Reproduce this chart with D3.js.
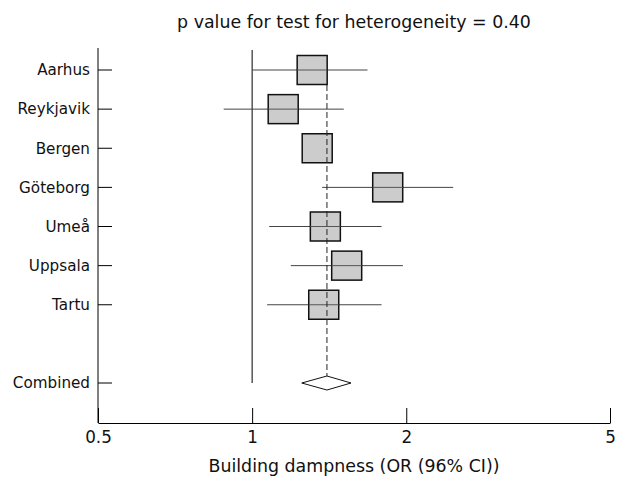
<!DOCTYPE html>
<html>
<head>
<meta charset="utf-8">
<script src="https://cdn.jsdelivr.net/npm/d3@7"></script>
<style>
  body { margin: 0; background: #fff; }
  text { font-family: "DejaVu Sans", sans-serif; fill: #111; }
</style>
</head>
<body>
<svg width="617" height="477"></svg>
<script>
const studies = ["Aarhus","Reykjavik","Bergen","Göteborg","Umeå","Uppsala","Tartu"];
const estimate = [1.31, 1.15, 1.34, 1.84, 1.39, 1.53, 1.38];
const lower    = [1.00, 0.88, 1.28, 1.37, 1.08, 1.19, 1.07];
const upper    = [1.68, 1.51, 1.42, 2.47, 1.79, 1.97, 1.79];
const combined = {label:"Combined", est:1.40, lo:1.25, hi:1.56};
const xTicks = [0.5, 1, 2, 5];

const svg = d3.select("svg");
const plotLeft = 98, plotRight = 610, plotTop = 48, plotBottom = 423;

const x = d3.scaleLog().domain([0.5, 5]).range([plotLeft, plotRight]);
// rows 0..6 for studies, row 8 for combined
const y = d3.scaleLinear().domain([0, 8]).range([70, 383]);

const rows = studies.map((s,i) => ({name:s, row:i, est:estimate[i], lo:lower[i], hi:upper[i]}));

// title
svg.append("text")
  .attr("x", 354).attr("y", 22).attr("dy","0.35em")
  .attr("text-anchor","middle").attr("font-size", 17.4)
  .text("p value for test for heterogeneity = 0.40");

// axes
const xAxis = svg.append("g").attr("transform",`translate(0,${plotBottom})`)
  .call(d3.axisBottom(x).tickValues(xTicks).tickFormat(d3.format("")).tickSizeInner(-15).tickSizeOuter(0).tickPadding(7));
xAxis.select(".domain").attr("stroke","#000");
xAxis.selectAll(".tick line").attr("stroke","#000");
xAxis.selectAll(".tick text").attr("font-size", 16.8).attr("dy","0.8em").attr("font-family","'DejaVu Sans', sans-serif").attr("fill","#111");

const yLabels = rows.map(r => r.name).concat([combined.label]);
const yRows = rows.map(r => r.row).concat([8]);
const yAxis = svg.append("g").attr("transform",`translate(${plotLeft},0)`);
yAxis.append("line").attr("x1",0).attr("x2",0).attr("y1",plotTop).attr("y2",plotBottom).attr("stroke","#000");
yAxis.selectAll(".tk").data(yRows).enter().append("line")
  .attr("x1",0).attr("x2",14).attr("y1",d=>y(d)).attr("y2",d=>y(d)).attr("stroke","#000");
yAxis.selectAll(".lb").data(yRows).enter().append("text")
  .attr("x",-8).attr("y",d=>y(d)).attr("dy","0.35em")
  .attr("text-anchor","end").attr("font-size",15.2)
  .text((d,i)=>yLabels[i]);

// reference line at 1
svg.append("line")
  .attr("x1",x(1)).attr("x2",x(1)).attr("y1",50).attr("y2",383)
  .attr("stroke","#000");

// CI lines
svg.selectAll(".ci").data(rows).enter().append("line")
  .attr("x1",d=>x(d.lo)).attr("x2",d=>x(d.hi))
  .attr("y1",d=>y(d.row)).attr("y2",d=>y(d.row))
  .attr("stroke","#444").attr("stroke-width",1);

// boxes
const bw = 30, bh = 29;
svg.selectAll(".box").data(rows).enter().append("rect")
  .attr("x",d=>x(d.est)-bw/2).attr("y",d=>y(d.row)-bh/2)
  .attr("width",bw).attr("height",bh)
  .attr("fill","#cccccc").attr("stroke","#111").attr("stroke-width",1.5);

// CI lines seen through the boxes (only where the interval leaves the box)
svg.selectAll(".ci2").data(rows.filter(d => x(d.lo) < x(d.est)-bw/2 || x(d.hi) > x(d.est)+bw/2)).enter().append("line")
  .attr("x1",d=>Math.max(x(d.lo), x(d.est)-bw/2)).attr("x2",d=>Math.min(x(d.hi), x(d.est)+bw/2))
  .attr("y1",d=>y(d.row)).attr("y2",d=>y(d.row))
  .attr("stroke","#555").attr("stroke-width",1);

// dashed line at combined estimate
svg.append("line")
  .attr("x1",x(combined.est)).attr("x2",x(combined.est))
  .attr("y1",85).attr("y2",y(8)-7)
  .attr("stroke","#222").attr("stroke-dasharray","6,3");

// combined diamond
const cy = y(8);
svg.append("path")
  .attr("d",`M${x(combined.lo)},${cy} L${x(combined.est)},${cy-7} L${x(combined.hi)},${cy} L${x(combined.est)},${cy+7} Z`)
  .attr("fill","#fff").attr("stroke","#111").attr("stroke-width",1);

// x title
svg.append("text")
  .attr("x", 354).attr("y", 466).attr("dy","0.35em")
  .attr("text-anchor","middle").attr("font-size",17.4)
  .text("Building dampness (OR (96% CI))");
</script>
</body>
</html>
